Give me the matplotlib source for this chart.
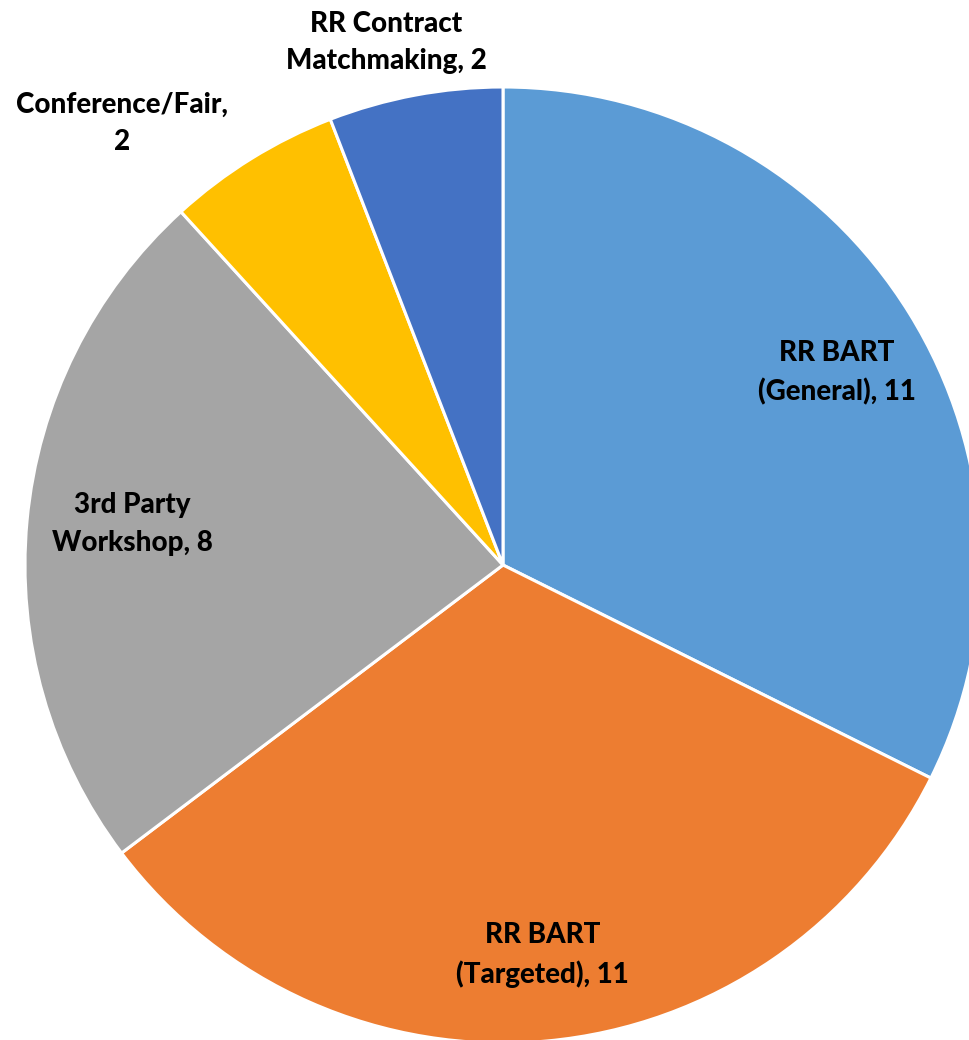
import matplotlib
matplotlib.use("Agg")
import matplotlib.pyplot as plt
import numpy as np

categories = ["RR BART\n(General)", "RR BART\n(Targeted)", "3rd Party\nWorkshop",
              "Conference/Fair,\n", "RR Contract\nMatchmaking"]
values = [11, 11, 8, 2, 2]
colors = ["#5B9BD5", "#ED7D31", "#A5A5A5", "#FFC000", "#4472C4"]

# label placement: angle (deg) and distance as fraction of radius
label_angle = [29.9, -84.2, 173.7, 130.8, 102.6]
label_dist = [0.806, 0.82, 0.78, 1.22, 1.12]

def main():
	fig = plt.figure(figsize=(9.69, 10.4), dpi=100)
	ax = fig.add_axes([0, 0, 1, 1])
	ax.pie(values, colors=colors, startangle=90, counterclock=False, radius=1.0,
		wedgeprops=dict(edgecolor="white", linewidth=2.2))
	for ix in range(len(values)):
		name = categories[ix]
		if name.endswith("\n"):
			txt = name + str(values[ix])
		else:
			txt = name + ", " + str(values[ix])
		a = np.deg2rad(label_angle[ix])
		r = label_dist[ix]
		ax.text(r*np.cos(a), r*np.sin(a), txt, ha="center", va="center",
			fontsize=20, fontweight=900, family=["Lato", "DejaVu Sans"],
			linespacing=1.55, color="black")
	ax.set_xlim(-503/478, (969-503)/478)
	ax.set_ylim(-(1040-565)/478, 565/478)
	ax.set_aspect("equal")
	ax.axis("off")
	fig.savefig("out.png", dpi=100)

main()
